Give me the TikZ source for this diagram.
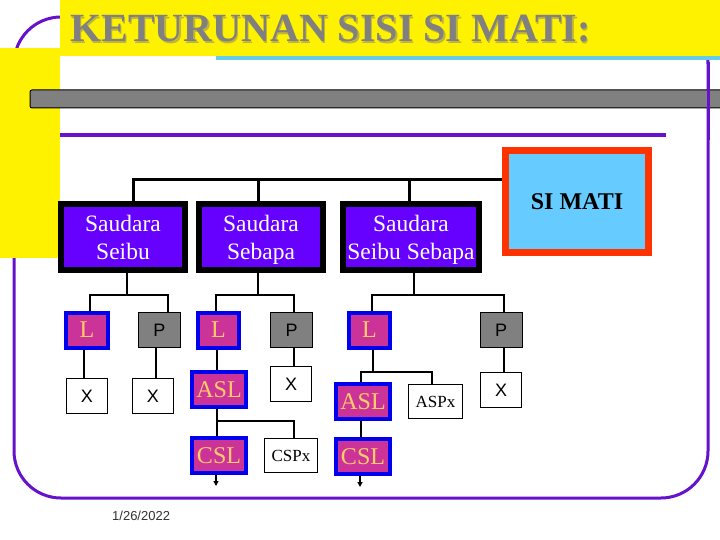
\documentclass[tikz,border=0pt]{standalone}
\usepackage{fontspec}
\setmainfont{Liberation Serif}
\newfontfamily\arialf{Liberation Sans}
\usetikzlibrary{arrows.meta,backgrounds}
\definecolor{purpB}{RGB}{102,17,204}
\definecolor{boxpurple}{RGB}{102,0,255}
\definecolor{magentab}{RGB}{204,51,153}
\definecolor{bluebord}{RGB}{0,0,238}
\definecolor{grayb}{RGB}{128,128,128}
\definecolor{cyanl}{RGB}{102,204,238}
\definecolor{simatifill}{RGB}{102,204,255}
\definecolor{simatibord}{RGB}{255,51,0}
\definecolor{lyellow}{RGB}{255,204,102}
\definecolor{shadowc}{RGB}{190,180,60}
\definecolor{titlegray}{RGB}{128,128,128}
\definecolor{datec}{RGB}{50,50,50}
\begin{document}
\begin{tikzpicture}[x=1pt,y=-1pt,
  bigbox/.style={draw=black,line width=6pt,fill=boxpurple,text=white,inner sep=0pt,
    minimum height=65pt,align=center,font=\fontsize{23.5}{28}\selectfont},
  simatibox/.style={draw=simatibord,line width=7pt,fill=simatifill,text=black,inner sep=0pt,
    minimum width=143pt,minimum height=102pt,font=\fontsize{24}{28}\selectfont\bfseries},
  lbox/.style={draw=bluebord,line width=4pt,fill=magentab,text=lyellow,inner sep=0pt,
    minimum height=35pt,font=\fontsize{24}{28}\selectfont},
  pbox/.style={draw=black,line width=0.9pt,fill=grayb,text=black,inner sep=0pt,
    minimum width=42pt,minimum height=35pt,font=\arialf\fontsize{18}{20}\selectfont},
  xbox/.style={draw=black,line width=0.9pt,fill=white,text=black,inner sep=0pt,
    minimum width=41pt,minimum height=35pt,font=\arialf\fontsize{18}{20}\selectfont},
  spbox/.style={draw=black,line width=0.9pt,fill=white,text=black,inner sep=0pt,
    minimum width=53pt,minimum height=34pt,font=\fontsize{17}{20}\selectfont},
  bus/.style={draw=black,line width=3pt},
  conn/.style={draw=black,line width=1.2pt},
  tipline/.style={draw=black,line width=1.2pt,-{Triangle[length=5pt,width=5pt]}},
  titletext/.style={anchor=base west,inner sep=0pt,font=\fontsize{40}{44}\selectfont\bfseries}]
\useasboundingbox (0,0) rectangle (720,540);
\begin{pgfonlayer}{background}
\fill[white] (0,0) rectangle (720,540);
\end{pgfonlayer}
% frame
\draw[purpB,line width=3pt,rounded corners=47pt] (14,17) rectangle (708,498);
\fill[yellow] (60,0) rectangle (720,56);
\fill[yellow] (0,48) rectangle (60,258);
\draw[cyanl,line width=4pt] (216,58.5) -- (720,58.5);
\draw[fill=grayb,draw=black,line width=1pt,rounded corners=2pt] (30,90) rectangle (724,108);
\draw[purpB,line width=3pt] (708,62) -- (708,140);
\draw[purpB,line width=3.5pt] (60,135) -- (666,135);
% title
\node[titletext,text=shadowc] (titleshadow) at (71.5,43.5) {KETURUNAN SISI SI MATI:};
\node[titletext,text=titlegray] (title) at (70,42) {KETURUNAN SISI SI MATI:};
% main boxes
\node[bigbox,minimum width=124pt] (seibu) at (123,237) {\rule{0pt}{22pt}Saudara\\Seibu\rule[-6pt]{0pt}{6pt}};
\node[bigbox,minimum width=124pt] (sebapa) at (261,237) {\rule{0pt}{22pt}Saudara\\Sebapa\rule[-6pt]{0pt}{6pt}};
\node[bigbox,minimum width=136pt] (ss) at (411,237) {\rule{0pt}{22pt}Saudara\\Seibu Sebapa\rule[-6pt]{0pt}{6pt}};
\node[simatibox] (simati) at (577,201.5) {SI MATI};
% group 1
\node[lbox,minimum width=42pt] (l1) at (87,330) {L};
\node[pbox] (p1) at (159.5,330) {P};
\node[xbox] (x1) at (87,396) {X};
\node[xbox] (x2) at (153,396) {X};
% group 2
\node[lbox,minimum width=41pt] (l2) at (218.5,330) {L};
\node[pbox] (p2) at (291.5,330) {P};
\node[lbox,minimum width=54pt] (asl1) at (219,389.5) {ASL};
\node[xbox] (x3) at (291,384) {X};
\node[lbox,minimum width=54pt] (cs1) at (219,455.5) {CSL};
\node[spbox] (cspx1) at (291,455.5) {CSPx};
% group 3
\node[lbox,minimum width=41pt] (l3) at (369.5,330) {L};
\node[pbox] (p3) at (501,330) {P};
\node[xbox] (x4) at (501,390) {X};
\node[lbox,minimum width=54pt] (asl2) at (363,401.5) {ASL};
\node[spbox,minimum width=54pt] (aspx) at (435.5,401.5) {ASPx};
\node[lbox,minimum width=54pt] (cs2) at (363,456.5) {CSL};
% date
\node[anchor=base west,inner sep=0pt,text=datec,font=\arialf\fontsize{13}{15}\selectfont] (date) at (112,520) {1/26/2022};
% connectors
\begin{pgfonlayer}{background}
\coordinate (t1) at (133,180);
\coordinate (t2) at (258,180);
\coordinate (t3) at (409,180);
\draw[bus] (simati.west |- t1) -- (t1) -- (t1 |- seibu.north);
\draw[bus] (t2) -- (t2 |- sebapa.north);
\draw[bus] (t3) -- (t3 |- ss.north);
% group 1
\coordinate (g1) at (127,295);
\draw[conn] (g1 |- seibu.south) -- (g1);
\draw[conn] (l1.north -| 90,0) |- (g1) -| (p1.north -| 168,0);
\draw[conn] (l1.south -| 84,0) -- (x1.north -| 84,0);
\draw[conn] (p1.south -| 156,0) -- (x2.north -| 156,0);
% group 2
\coordinate (g2) at (258,295);
\draw[conn] (g2 |- sebapa.south) -- (g2);
\draw[conn] (l2.north -| 216,0) |- (g2) -| (p2.north -| 294,0);
\draw[conn] (l2.south -| 217,0) -- (asl1.north -| 217,0);
\draw[conn] (p2.south -| 294,0) -- (x3.north -| 294,0);
\coordinate (g3) at (217,421);
\draw[conn] (asl1.south -| g3) -- (cs1.north -| g3);
\draw[conn] (g3) -| (cspx1.north -| 294,0);
\draw[tipline] (cs1.south -| 216,0) -- ++(0,11);
% group 3
\coordinate (g4) at (414,295);
\draw[conn] (g4 |- ss.south) -- (g4);
\draw[conn] (l3.north -| 372,0) |- (g4) -| (p3.north -| 504,0);
\coordinate (g5) at (373,372);
\draw[conn] (l3.south -| g5) -- (g5);
\draw[conn] (asl2.north -| 361,0) |- (g5) -| (aspx.north -| 432,0);
\draw[conn] (p3.south -| 504,0) -- (x4.north -| 504,0);
\draw[conn] (asl2.south -| 361,0) -- (cs2.north -| 361,0);
\draw[tipline] (cs2.south -| 360,0) -- ++(0,11);
\end{pgfonlayer}
\end{tikzpicture}
\end{document}
